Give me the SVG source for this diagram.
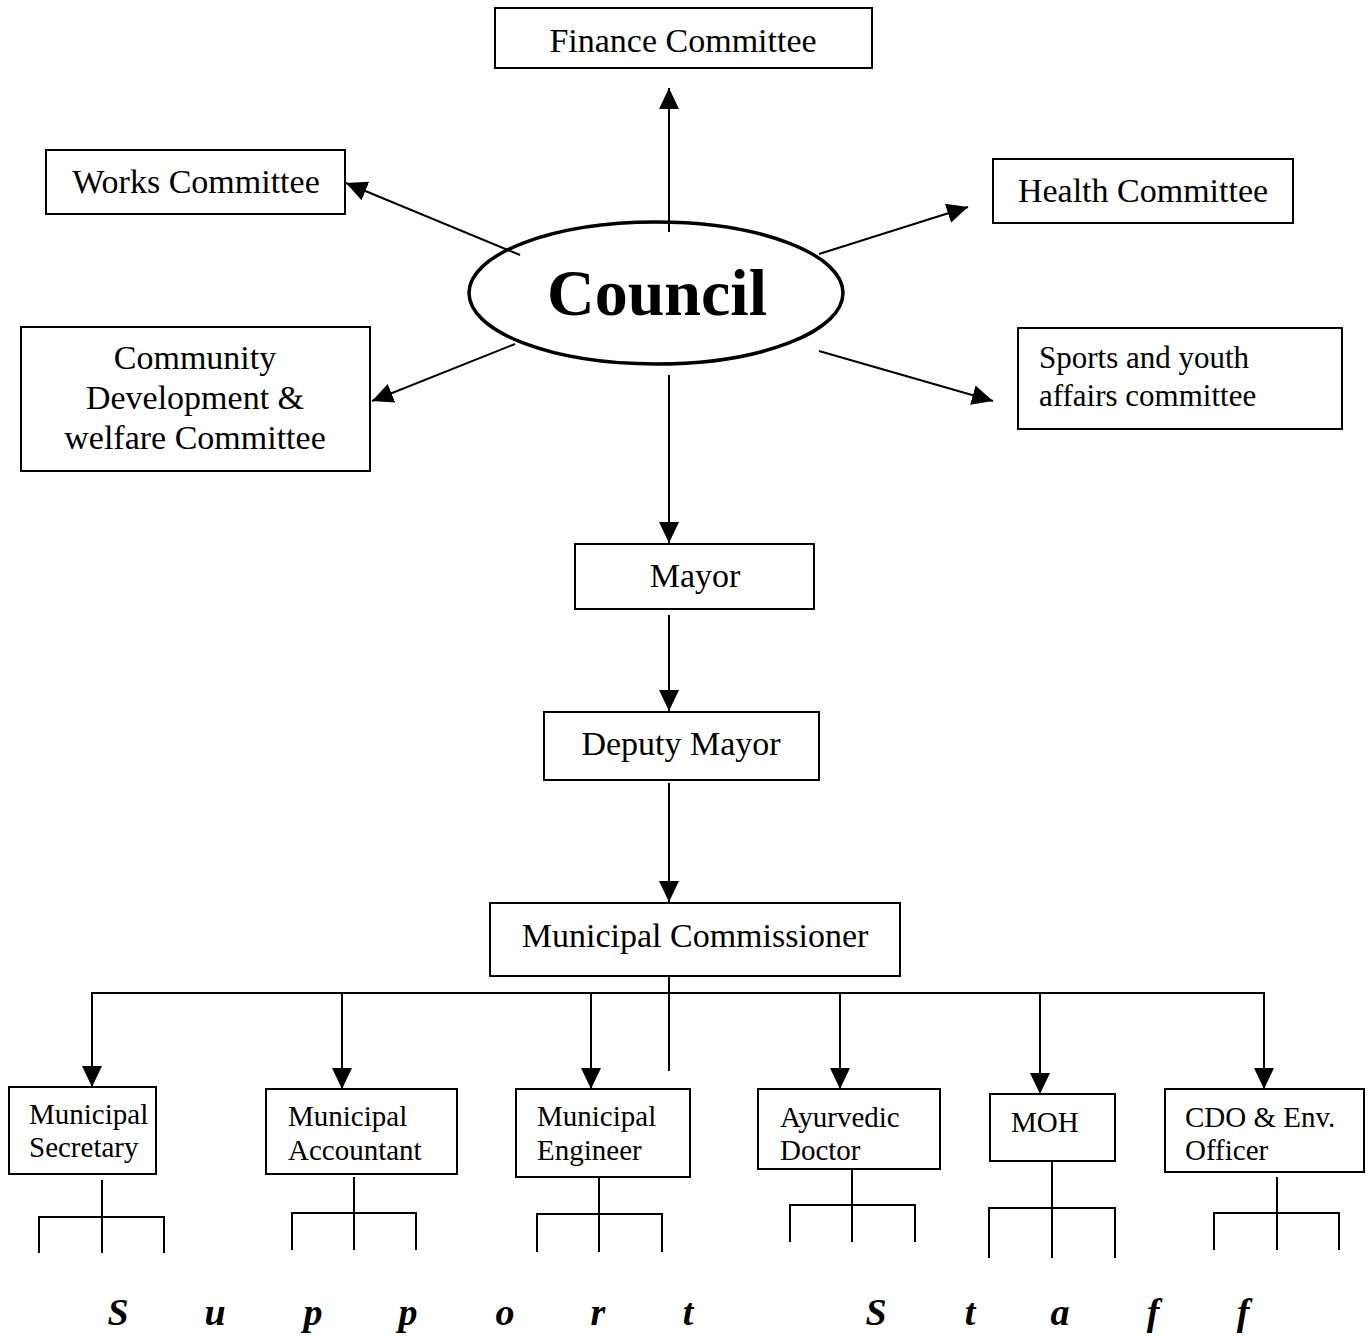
<svg xmlns="http://www.w3.org/2000/svg" width="1368" height="1336" viewBox="0 0 1368 1336">
<style>
.box{fill:#fff;stroke:#000;stroke-width:2}
.t{font-family:"Liberation Serif","Times New Roman",serif;fill:#000}
.l{font-size:34px}
.m{font-size:31px}
.s{font-size:29px}
.c{text-anchor:middle}
.ln{stroke:#000;stroke-width:2;fill:none}
.ar{stroke:#000;stroke-width:2;fill:none;marker-end:url(#ah)}
</style>
<defs>
<marker id="ah" markerUnits="userSpaceOnUse" markerWidth="22" markerHeight="20" refX="21" refY="10" orient="auto">
<path d="M0,0 L21,10 L0,20 z" fill="#000"/>
</marker>
</defs>
<rect width="1368" height="1336" fill="#fff"/>

<g id="council">
<ellipse cx="656" cy="293" rx="187" ry="71" fill="none" stroke="#000" stroke-width="3.5"/>
<text class="t c" x="657" y="315" font-size="66" font-weight="bold">Council</text>
</g>

<g id="connectors">
<line class="ar" x1="669" y1="232" x2="669" y2="88"/>
<line class="ar" x1="520" y1="255" x2="346" y2="183"/>
<line class="ar" x1="515" y1="344" x2="372" y2="401"/>
<line class="ar" x1="819" y1="254" x2="968" y2="207"/>
<line class="ar" x1="819" y1="351" x2="993" y2="401"/>
<line class="ar" x1="669" y1="375" x2="669" y2="543"/>
<line class="ar" x1="669" y1="615" x2="669" y2="711"/>
<line class="ar" x1="669" y1="783" x2="669" y2="902"/>
<line class="ln" x1="669" y1="974" x2="669" y2="1071"/>
<line class="ln" x1="91" y1="993" x2="1265" y2="993"/>
<line class="ar" x1="92" y1="993" x2="92" y2="1087"/>
<line class="ar" x1="342" y1="993" x2="342" y2="1089"/>
<line class="ar" x1="591" y1="993" x2="591" y2="1089"/>
<line class="ar" x1="840" y1="993" x2="840" y2="1089"/>
<line class="ar" x1="1040" y1="993" x2="1040" y2="1094"/>
<line class="ar" x1="1264" y1="993" x2="1264" y2="1089"/>
<path class="ln" d="M102,1180 V1253 M39,1253 V1217 H164 V1253"/>
<path class="ln" d="M354,1177 V1250 M292,1250 V1213 H416 V1250"/>
<path class="ln" d="M599,1178 V1252 M537,1252 V1214 H662 V1252"/>
<path class="ln" d="M852,1168 V1242 M790,1242 V1205 H915 V1242"/>
<path class="ln" d="M1052,1161 V1258 M989,1258 V1208 H1115 V1258"/>
<path class="ln" d="M1277,1177 V1250 M1214,1250 V1213 H1339 V1250"/>
</g>

<g id="finance">
<rect class="box" x="495" y="8" width="377" height="60"/>
<text class="t l c" x="683" y="52">Finance Committee</text>
</g>
<g id="works">
<rect class="box" x="46" y="150" width="299" height="64"/>
<text class="t l c" x="196" y="193">Works Committee</text>
</g>
<g id="health">
<rect class="box" x="993" y="159" width="300" height="64"/>
<text class="t l c" x="1143" y="202">Health Committee</text>
</g>
<g id="community">
<rect class="box" x="21" y="327" width="349" height="144"/>
<text class="t l c" x="195" y="369">Community</text>
<text class="t l c" x="195" y="409">Development &amp;</text>
<text class="t l c" x="195" y="449">welfare Committee</text>
</g>
<g id="sports">
<rect class="box" x="1018" y="328" width="324" height="101"/>
<text class="t m" x="1039" y="368">Sports and youth</text>
<text class="t m" x="1039" y="406">affairs committee</text>
</g>
<g id="mayor">
<rect class="box" x="575" y="544" width="239" height="65"/>
<text class="t l c" x="695" y="587">Mayor</text>
</g>
<g id="deputy-mayor">
<rect class="box" x="544" y="712" width="275" height="68"/>
<text class="t l c" x="681" y="755">Deputy Mayor</text>
</g>
<g id="commissioner">
<rect class="box" x="490" y="903" width="410" height="73"/>
<text class="t l c" x="695" y="947">Municipal Commissioner</text>
</g>
<g id="secretary">
<rect class="box" x="9" y="1087" width="147" height="87"/>
<text class="t s" x="29" y="1124">Municipal</text>
<text class="t s" x="29" y="1157">Secretary</text>
</g>
<g id="accountant">
<rect class="box" x="266" y="1089" width="191" height="85"/>
<text class="t s" x="288" y="1126">Municipal</text>
<text class="t s" x="288" y="1160">Accountant</text>
</g>
<g id="engineer">
<rect class="box" x="516" y="1089" width="174" height="88"/>
<text class="t s" x="537" y="1126">Municipal</text>
<text class="t s" x="537" y="1160">Engineer</text>
</g>
<g id="ayurvedic">
<rect class="box" x="758" y="1089" width="182" height="80"/>
<text class="t s" x="780" y="1127">Ayurvedic</text>
<text class="t s" x="780" y="1160">Doctor</text>
</g>
<g id="moh">
<rect class="box" x="990" y="1094" width="125" height="67"/>
<text class="t s" x="1011" y="1132">MOH</text>
</g>
<g id="cdo">
<rect class="box" x="1165" y="1089" width="199" height="83"/>
<text class="t s" x="1185" y="1127">CDO &amp; Env.</text>
<text class="t s" x="1185" y="1160">Officer</text>
</g>
<text class="t c" font-size="38" font-weight="bold" font-style="italic" x="118 215 313 408 505 598 688 782 876 970 1060 1153 1243" y="1325">Support Staff</text>
</svg>
